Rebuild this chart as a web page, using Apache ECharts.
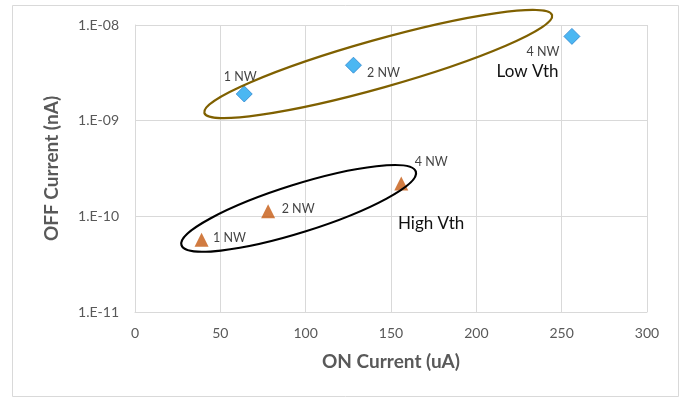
<!DOCTYPE html>
<html>
<head>
<meta charset="utf-8">
<script src="https://cdn.jsdelivr.net/npm/echarts@6/dist/echarts.min.js"></script>
<style>
  html, body { margin: 0; padding: 0; background: #ffffff; }
  #chart { width: 685px; height: 398px; }
</style>
</head>
<body>
<div id="chart"></div>
<script>
// ON current (uA) vs OFF current (nA) for nanowire transistors
const xMin = 0, xMax = 300, xStep = 50;
const yMin = 1e-11, yMax = 1e-8;

const lowVthOn = [64, 128, 256];
const lowVthOff = [1.9e-9, 3.8e-9, 7.6e-9];
const lowVthNames = ['1 NW', '2 NW', '4 NW'];

const highVthOn = [39, 78, 156];
const highVthOff = [5.7e-11, 1.13e-10, 2.2e-10];
const highVthNames = ['1 NW', '2 NW', '4 NW'];

// Group annotations: ellipse centre and caption anchor in data units
const groupNames = ['Low Vth', 'High Vth'];
const groupCentres = [[142.5, 3.91e-9], [95.9, 1.21e-10]];
const groupCaptions = [[230, 3.24e-9], [173.5, 8.4e-11]];

// Styling (pixels / colours)
const FONT = 'Lato, "Open Sans", sans-serif';
const lowLabelOffsets = [[-4, -17], [30, 8], [-29, 16]];
const highLabelOffsets = [[28, -2], [30, -2], [30, -22]];
const ringStyles = [
  { rx: 180.6, ry: 24, angle: 15.7, color: '#7F6000' },
  { rx: 122.8, ry: 24, angle: 17.4, color: '#000000' }
];

function pointData(xs, ys, names, offsets) {
  return xs.map((x, i) => ({
    value: [x, ys[i]],
    name: names[i],
    label: { offset: offsets[i] }
  }));
}

function sciLabel(v) {
  const e = Math.round(Math.log10(v));
  return '1.E' + (e < 0 ? '-' : '+') + String(Math.abs(e)).padStart(2, '0');
}

const chart = echarts.init(document.getElementById('chart'), null, { renderer: 'canvas' });

const pointLabel = {
  show: true,
  position: 'inside',
  align: 'center',
  verticalAlign: 'middle',
  formatter: p => p.name,
  color: '#111111',
  fontFamily: FONT,
  fontSize: 12.5
};

chart.setOption({
  animation: false,
  backgroundColor: '#ffffff',
  grid: { left: 135, right: 38, top: 25, bottom: 86, containLabel: false },
  xAxis: {
    type: 'value',
    min: xMin, max: xMax, interval: xStep,
    name: 'ON Current (uA)',
    nameLocation: 'middle',
    nameGap: 40,
    nameTextStyle: { color: '#595959', fontFamily: FONT, fontSize: 19, fontWeight: 'bold' },
    axisLine: { show: true, lineStyle: { color: '#d9d9d9', width: 1 } },
    axisTick: { show: false },
    axisLabel: { color: '#595959', fontFamily: FONT, fontSize: 14, margin: 14 },
    splitLine: { show: true, lineStyle: { color: '#d9d9d9', width: 1 } }
  },
  yAxis: {
    type: 'log',
    logBase: 10,
    min: yMin, max: yMax,
    name: 'OFF Current (nA)',
    nameLocation: 'middle',
    nameGap: 74,
    nameTextStyle: { color: '#595959', fontFamily: FONT, fontSize: 19, fontWeight: 'bold' },
    axisLine: { show: true, lineStyle: { color: '#d9d9d9', width: 1 } },
    axisTick: { show: false },
    axisLabel: { color: '#595959', fontFamily: FONT, fontSize: 14, margin: 16, formatter: sciLabel },
    splitLine: { show: true, lineStyle: { color: '#d9d9d9', width: 1 } }
  },
  series: [
    {
      name: 'Low Vth',
      type: 'scatter',
      symbol: 'diamond',
      symbolSize: [16, 16],
      itemStyle: { color: '#1EA5EF', borderColor: '#2E86D0', borderWidth: 1 },
      label: pointLabel,
      z: 5,
      data: pointData(lowVthOn, lowVthOff, lowVthNames, lowLabelOffsets)
    },
    {
      name: 'High Vth',
      type: 'scatter',
      symbol: 'triangle',
      symbolSize: [14, 14],
      itemStyle: { color: '#C55A11' },
      label: pointLabel,
      z: 5,
      data: pointData(highVthOn, highVthOff, highVthNames, highLabelOffsets)
    }
  ]
});

// Chart frame plus the ellipses and captions marking each Vth group
function drawAnnotations() {
  const elements = [{
    type: 'rect',
    shape: { x: 12.5, y: 5.5, width: 666, height: 391 },
    style: { fill: 'none', stroke: '#d9d9d9', lineWidth: 1 },
    z: 0,
    silent: true
  }];
  groupNames.forEach((name, i) => {
    const c = chart.convertToPixel({ gridIndex: 0 }, groupCentres[i]);
    const t = chart.convertToPixel({ gridIndex: 0 }, groupCaptions[i]);
    const r = ringStyles[i];
    elements.push({
      type: 'ellipse',
      x: c[0], y: c[1],
      rotation: r.angle * Math.PI / 180,
      shape: { cx: 0, cy: 0, rx: r.rx, ry: r.ry },
      style: { fill: 'none', stroke: r.color, lineWidth: 2.2 },
      z: 10,
      silent: true
    });
    elements.push({
      type: 'text',
      x: t[0], y: t[1],
      style: {
        text: name,
        fill: '#111111',
        font: '17px ' + FONT,
        textAlign: 'center',
        textVerticalAlign: 'middle'
      },
      z: 10,
      silent: true
    });
  });
  chart.setOption({ graphic: elements });
}
drawAnnotations();
</script>
</body>
</html>
